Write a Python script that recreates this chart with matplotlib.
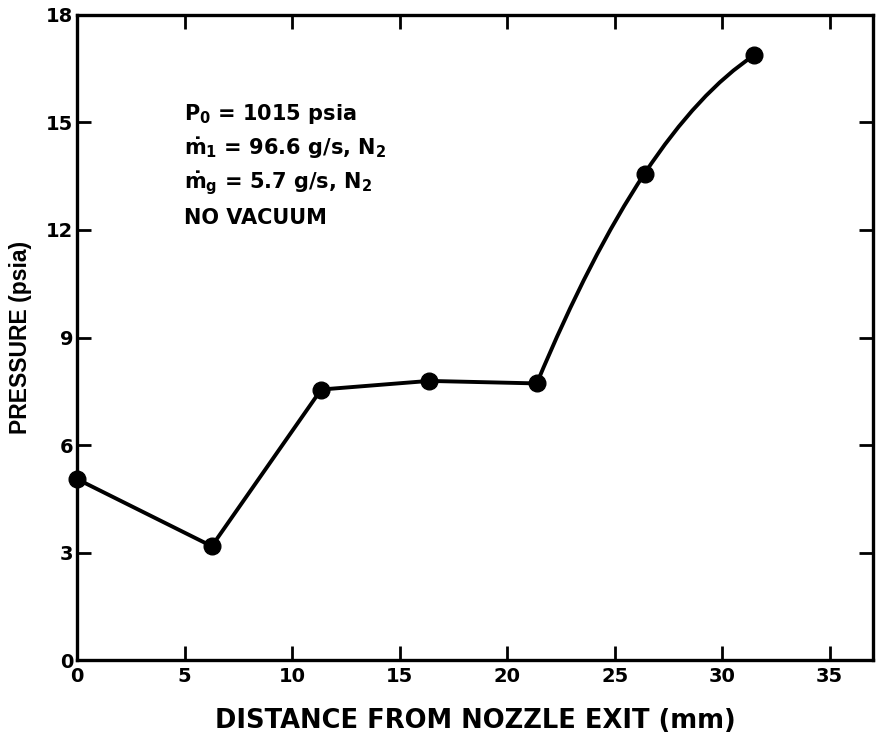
import matplotlib
matplotlib.use("Agg")
import matplotlib.pyplot as plt
from matplotlib.path import Path
from matplotlib.patches import PathPatch
import numpy as np

# data
distance = [0.0, 6.26, 11.35, 16.37, 21.38, 26.39, 31.49]
pressure = [5.05, 3.18, 7.55, 7.79, 7.72, 13.57, 16.87]
xticks = [0, 5, 10, 15, 20, 25, 30, 35]
yticks = [0, 3, 6, 9, 12, 15, 18]

plt.rcParams['font.family'] = ['DejaVu Sans']
plt.rcParams['font.weight'] = 'bold'
plt.rcParams['mathtext.fontset'] = 'custom'
plt.rcParams['mathtext.rm'] = 'DejaVu Sans:bold'
plt.rcParams['mathtext.it'] = 'DejaVu Sans:bold'
plt.rcParams['mathtext.bf'] = 'DejaVu Sans:bold'
plt.rcParams['mathtext.sf'] = 'DejaVu Sans'

fig = plt.figure(figsize=(8.77, 7.41), dpi=100)
ax = fig.add_axes([0.088, 0.109, 0.907, 0.871])

lw = 2.8
# straight part of the curve
ax.plot(distance[:5], pressure[:5], color='black', lw=lw, solid_joinstyle='round')

# smooth part through the last three points
p1, p2, p3 = [np.array([distance[i], pressure[i]]) for i in (4, 5, 6)]
t2 = (p3 - p1) / 2
t1 = 2 * (p2 - p1) - t2
t3 = 2 * (p3 - p2) - t2
verts = [p1, p1 + t1 / 3, p2 - t2 / 3, p2, p2 + t2 / 3, p3 - t3 / 3, p3]
codes = [Path.MOVETO] + [Path.CURVE4] * 6
ax.add_patch(PathPatch(Path(verts, codes), fill=False, lw=lw, color='black'))

ax.plot(distance, pressure, 'o', color='black', ms=12, clip_on=False, zorder=5)

ax.set_xlim(0, 37)
ax.set_ylim(0, 18)
ax.set_xticks(xticks)
ax.set_yticks(yticks)
ax.tick_params(direction='in', length=10, width=2, labelsize=14,
               top=True, right=True)
ax.tick_params(axis='x', pad=5)
ax.tick_params(axis='y', pad=3)
for s in ax.spines.values():
    s.set_linewidth(2.4)

ax.set_xlabel('DISTANCE FROM NOZZLE EXIT (mm)', fontsize=18.5, fontweight='bold', labelpad=16)
ax.set_ylabel('PRESSURE (psia)', labelpad=10,
              fontdict={'family': 'Liberation Sans', 'weight': 'bold', 'size': 16.5})

tx, ty = 4.95, 15.07
lines = [r'P$_0$ = 1015 $\mathsf{psia}$',
         r'$\dot{\mathrm{m}}_1$ = 96.6 g/s, N$_2$',
         r'$\dot{\mathrm{m}}_\mathrm{g}$ = 5.7 g/s, N$_2$',
         'NO VACUUM']
for i, t in enumerate(lines):
    ax.text(tx, ty - i * 0.967, t, fontsize=15, fontweight='bold', va='baseline')

fig.savefig('out.png', dpi=100)
